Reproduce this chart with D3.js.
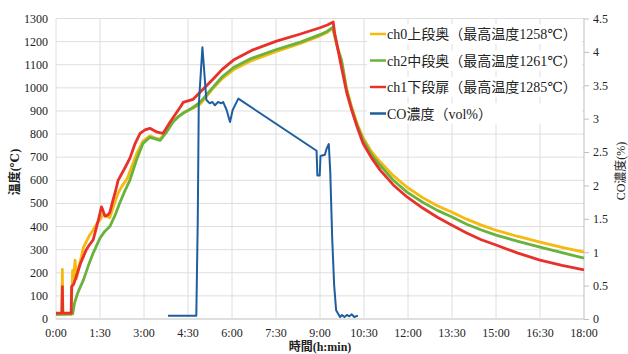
<!DOCTYPE html>
<html>
<head>
<meta charset="utf-8">
<script src="https://cdn.jsdelivr.net/npm/d3@7"></script>
<style>
  body { margin: 0; background: #fff; }
  text { font-family: "Times New Roman", "Liberation Serif", "DejaVu Serif", "Noto Sans CJK JP", serif; }
</style>
</head>
<body>
<div id="chart"></div>
<script>
// time in minutes, temperature in deg C
var ch0 = [[0,20],[12,20],[13,215],[14,20],[31,20],[32,100],[34,210],[36,180],[39,255],[42,175],[46,220],[52,270],[56,310],[62,335],[68,360],[76,385],[84,415],[90,428],[97,457],[102,445],[110,438],[118,490],[126,540],[135,575],[145,605],[155,660],[165,715],[178,770],[192,792],[205,782],[213,778],[225,810],[239,855],[250,875],[260,892],[280,912],[295,930],[320,995],[340,1040],[363,1078],[400,1118],[451,1158],[500,1192],[540,1225],[555,1240],[566,1258],[570,1225],[576,1170],[584,1120],[594,1000],[605,915],[616,845],[628,785],[645,725],[663,680],[690,620],[718,570],[750,525],[780,490],[810,462],[840,432],[870,406],[900,384],[945,357],[990,333],[1035,310],[1080,289]];
var ch2 = [[0,20],[34,22],[38,70],[44,110],[50,140],[56,168],[66,230],[76,285],[90,350],[100,380],[110,400],[120,445],[130,500],[140,550],[151,600],[165,690],[178,760],[192,786],[205,778],[213,773],[225,805],[239,851],[250,875],[260,890],[280,915],[295,938],[320,1000],[340,1048],[363,1088],[400,1128],[451,1166],[500,1198],[540,1230],[555,1245],[566,1261],[570,1228],[576,1172],[584,1118],[594,995],[605,908],[616,838],[628,775],[645,712],[663,665],[690,600],[718,549],[750,505],[780,470],[810,441],[840,410],[870,385],[900,363],[945,336],[990,311],[1035,287],[1080,263]];
var ch1 = [[0,25],[12,25],[13,140],[14,25],[31,25],[32,140],[36,150],[40,175],[44,200],[50,240],[56,270],[62,300],[68,320],[76,342],[82,390],[88,440],[93,485],[96,470],[100,445],[106,450],[110,460],[116,510],[122,555],[127,600],[140,650],[151,695],[162,760],[172,803],[182,818],[192,825],[207,808],[219,803],[233,851],[254,916],[260,937],[280,950],[295,982],[320,1035],[340,1080],[363,1120],[400,1162],[451,1202],[500,1233],[540,1260],[555,1272],[567,1285],[570,1235],[576,1175],[581,1119],[595,976],[605,903],[616,830],[628,760],[645,698],[663,644],[690,580],[718,528],[750,480],[780,440],[810,406],[840,372],[870,343],[900,320],[945,285],[990,255],[1035,232],[1080,212]];
// CO concentration, vol%
var co = [[229,0.05],[287,0.05],[290,1.5],[292,3.2],[299.5,4.07],[307.6,3.28],[314.5,3.23],[320,3.25],[325,3.2],[331.6,3.25],[338.5,3.23],[341.8,3.25],[349,3.13],[355.9,2.95],[361.4,3.13],[372.9,3.3],[533,2.52],[534.6,2.15],[539.4,2.15],[541,2.44],[550,2.46],[553.5,2.55],[558,2.62],[561,2.2],[565,1.2],[569,0.5],[573,0.13],[581,0.03],[585,0.06],[590,0.03],[595,0.06],[600,0.04],[605,0.07],[610,0.03],[617.7,0.05]];

var xTicks = [0, 90, 180, 270, 360, 450, 540, 630, 720, 810, 900, 990, 1080];
var tempTicks = d3.range(0, 1301, 100);
var coTicks = [0, 0.5, 1, 1.5, 2, 2.5, 3, 3.5, 4, 4.5];

var series = [
  {name: "ch0上段奥（最高温度1258℃）", data: ch0, color: "#f5b90f"},
  {name: "ch2中段奥（最高温度1261℃）", data: ch2, color: "#6ab23e"},
  {name: "ch1下段扉（最高温度1285℃）", data: ch1, color: "#e8312b"}
];

var width = 628, height = 354;
var pL = 56, pR = 584, pT = 18.5, pB = 319;

var x = d3.scaleLinear().domain([0, 1080]).range([pL, pR]);
var y = d3.scaleLinear().domain([0, 1300]).range([pB, pT]);
var y2 = d3.scaleLinear().domain([0, 4.5]).range([pB, pT]);

var svg = d3.select("#chart").append("svg")
    .attr("width", width)
    .attr("height", height);

// grid
svg.append("g").selectAll("line")
  .data(tempTicks)
  .enter().append("line")
  .attr("x1", pL).attr("x2", pR)
  .attr("y1", d => y(d)).attr("y2", d => y(d))
  .style("stroke", d => d === 0 ? "#bfbfbf" : "#dedede")
  .style("stroke-width", 1);

svg.append("g").selectAll("line")
  .data(xTicks)
  .enter().append("line")
  .attr("x1", d => x(d)).attr("x2", d => x(d))
  .attr("y1", pT).attr("y2", pB)
  .style("stroke", d => d === 1080 ? "#bfbfbf" : "#dedede")
  .style("stroke-width", 1);

// left axis labels
svg.append("g").selectAll("text")
  .data(tempTicks)
  .enter().append("text")
  .attr("x", 48).attr("y", d => y(d) + 4)
  .attr("text-anchor", "end")
  .style("font-size", "12px")
  .style("fill", "#222")
  .text(d => d);

// right axis ticks + labels
var ra = svg.append("g").attr("transform", "translate(" + pR + ",0)")
  .call(d3.axisRight(y2).tickValues(coTicks).tickSize(5).tickPadding(4).tickFormat(d => d));
ra.attr("font-family", null).attr("font-size", null);
ra.select(".domain").remove();
ra.selectAll("line").style("stroke", "#bfbfbf");
ra.selectAll("text").style("fill", "#222").style("font-size", "12px");

// x axis labels
svg.append("g").selectAll("text")
  .data(xTicks)
  .enter().append("text")
  .attr("x", d => x(d)).attr("y", 337)
  .attr("text-anchor", "middle")
  .style("font-size", "12px")
  .style("fill", "#222")
  .text(d => Math.floor(d / 60) + ":" + d3.format("02")(d % 60));

// axis titles
svg.append("text")
  .attr("transform", "translate(19,172) rotate(-90)")
  .attr("text-anchor", "middle")
  .style("font-size", "12px")
  .style("font-weight", "bold")
  .style("fill", "#222")
  .text("温度(℃)");

svg.append("text")
  .attr("transform", "translate(625,171) rotate(-90)")
  .attr("text-anchor", "middle")
  .style("font-size", "12px")
  .style("fill", "#222")
  .text("CO濃度(%)");

svg.append("text")
  .attr("x", 320).attr("y", 351)
  .attr("text-anchor", "middle")
  .style("font-size", "12px")
  .style("font-weight", "bold")
  .style("fill", "#222")
  .text("時間(h:min)");

var line = d3.line().x(d => x(d[0])).y(d => y(d[1]));
var line2 = d3.line().x(d => x(d[0])).y(d => y2(d[1]));

series.forEach(function(s) {
  svg.append("path")
    .attr("d", line(s.data))
    .style("fill", "none")
    .style("stroke", s.color)
    .style("stroke-width", 2.8)
    .style("stroke-linejoin", "round");
});

svg.append("path")
  .attr("d", line2(co))
  .style("fill", "none")
  .style("stroke", "#1f5e9e")
  .style("stroke-width", 2)
  .style("stroke-linejoin", "round");

// legend
var legendItems = series.map(s => ({name: s.name, color: s.color}))
  .concat([{name: "CO濃度（vol%）", color: "#1f5e9e"}]);

var lg = svg.append("g").selectAll("g")
  .data(legendItems)
  .enter().append("g")
  .attr("transform", (d, i) => "translate(370," + (34 + i * 26.5) + ")");

lg.append("rect").attr("x", -3).attr("y", -10).attr("width", 215).attr("height", 20)
  .style("fill", "#fff");
lg.append("line")
  .attr("x1", 0).attr("x2", 16).attr("y1", 0).attr("y2", 0)
  .style("stroke", d => d.color).style("stroke-width", 2.5);
lg.append("text")
  .attr("x", 17).attr("y", 5)
  .style("font-size", "14px")
  .style("fill", "#222")
  .text(d => d.name);
</script>
</body>
</html>
